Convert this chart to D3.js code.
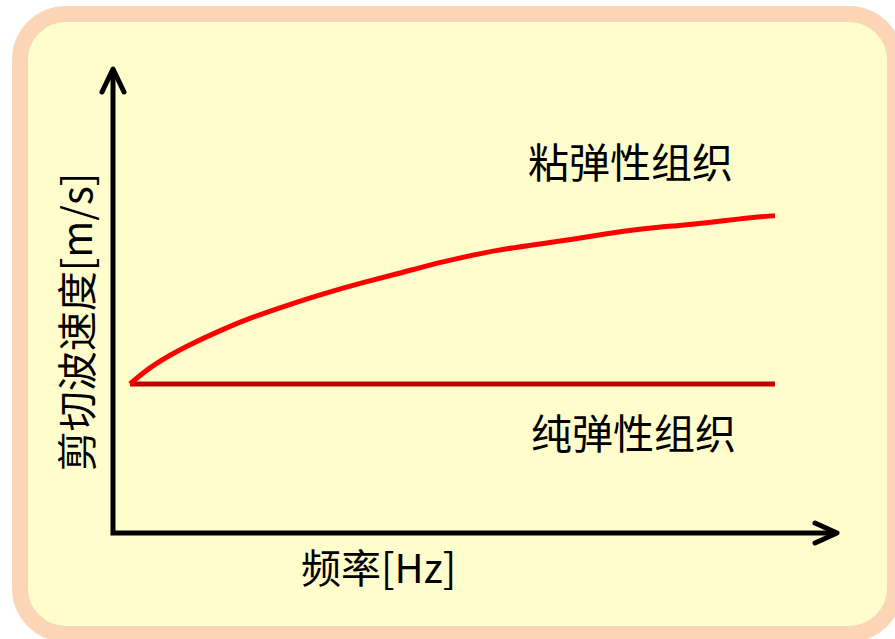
<!DOCTYPE html>
<html>
<head>
<meta charset="utf-8">
<script src="https://cdnjs.cloudflare.com/ajax/libs/d3/7.8.5/d3.min.js"></script>
<style>
  html, body { margin: 0; padding: 0; background: #ffffff; overflow: hidden; }
  text { font-family: "Noto Sans CJK SC", "Noto Sans", sans-serif; fill: #000000; }
</style>
</head>
<body>
<script>
// shear wave speed vs frequency (schematic)

// Frequency samples (arbitrary units) and relative shear wave speed
var viscoFreq  = [0, 0.7, 1.8, 2.8, 3.8, 4.9, 5.9, 7.2, 8.3, 9.3, 10.3, 11.4, 12.7, 13.7, 14.8, 15.8, 16.8, 17.9, 18.9, 20];
var viscoSpeed = [1.00, 1.13, 1.26, 1.36, 1.45, 1.53, 1.60, 1.68, 1.74, 1.80, 1.85, 1.90, 1.94, 1.97, 2.01, 2.04, 2.06, 2.08, 2.11, 2.13];
var elasticFreq  = [0, 20];
var elasticSpeed = [1.00, 1.00];

// Text
var seriesLabels = ['粘弹性组织', '纯弹性组织'];
var xAxisLabel = '频率[Hz]';
var yAxisLabel = '剪切波速度[m/s]';

// Colors
var colors = {
  'panelFill'   : '#fffdcc',
  'panelBorder' : '#fbd5b5',
  'axis'        : '#000000',
  'visco'       : '#ff0000',
  'elastic'     : '#c00000'
};

var width = 895, height = 639;
var axisLeft = 113, axisBottom = 533, axisRight = 837, axisTop = 69;

var svg = d3.select('body').append('svg')
  .attr('width', width)
  .attr('height', height);

// Background panel (rounded, runs off the right and bottom edges)
svg.append('rect')
  .attr('x', 20).attr('y', 14)
  .attr('width', 875).attr('height', 620)
  .attr('rx', 46).attr('ry', 46)
  .style('fill', colors.panelFill)
  .style('stroke', colors.panelBorder)
  .style('stroke-width', 16);

// Scales
var x = d3.scaleLinear().domain([0, 20]).range([130, 775]);
var y = d3.scaleLinear().domain([0, 3]).range([axisBottom, axisBottom - 3 * 149]);

// Axes: plain lines with open arrow heads
var axes = svg.append('g')
  .style('stroke', colors.axis)
  .style('stroke-width', 5)
  .style('fill', 'none')
  .style('stroke-linecap', 'round')
  .style('stroke-linejoin', 'round');

axes.append('path')
  .attr('d', 'M' + axisLeft + ' ' + (axisTop + 2) + ' L' + axisLeft + ' ' + axisBottom + ' L' + (axisRight - 2) + ' ' + axisBottom)
  .style('stroke-linecap', 'butt')
  .style('stroke-linejoin', 'miter');

axes.append('path')
  .attr('d', 'M' + (axisLeft - 11) + ' ' + (axisTop + 23) + ' L' + axisLeft + ' ' + axisTop + ' L' + (axisLeft + 11) + ' ' + (axisTop + 23));

axes.append('path')
  .attr('d', 'M' + (axisRight - 22) + ' ' + (axisBottom - 10) + ' L' + axisRight + ' ' + axisBottom + ' L' + (axisRight - 22) + ' ' + (axisBottom + 10));

// Series
var line = d3.line()
  .x(d => x(d[0]))
  .y(d => y(d[1]))
  .curve(d3.curveBasis);

svg.append('path')
  .datum(d3.zip(elasticFreq, elasticSpeed))
  .attr('d', line)
  .style('fill', 'none')
  .style('stroke', colors.elastic)
  .style('stroke-width', 5);

svg.append('path')
  .datum(d3.zip(viscoFreq, viscoSpeed))
  .attr('d', line)
  .style('fill', 'none')
  .style('stroke', colors.visco)
  .style('stroke-width', 5);

// Labels
svg.append('text')
  .attr('x', 528).attr('y', 160)
  .attr('dominant-baseline', 'central')
  .style('font-size', '41px')
  .text(seriesLabels[0]);

svg.append('text')
  .attr('x', 531).attr('y', 431)
  .attr('dominant-baseline', 'central')
  .style('font-size', '41px')
  .text(seriesLabels[1]);

svg.append('text')
  .attr('x', 301).attr('y', 566)
  .attr('dominant-baseline', 'central')
  .style('font-size', '40px')
  .text(xAxisLabel);

svg.append('text')
  .attr('transform', 'translate(75,322) rotate(-90)')
  .attr('text-anchor', 'middle')
  .attr('dominant-baseline', 'central')
  .style('font-size', '40px')
  .text(yAxisLabel);
</script>
</body>
</html>
